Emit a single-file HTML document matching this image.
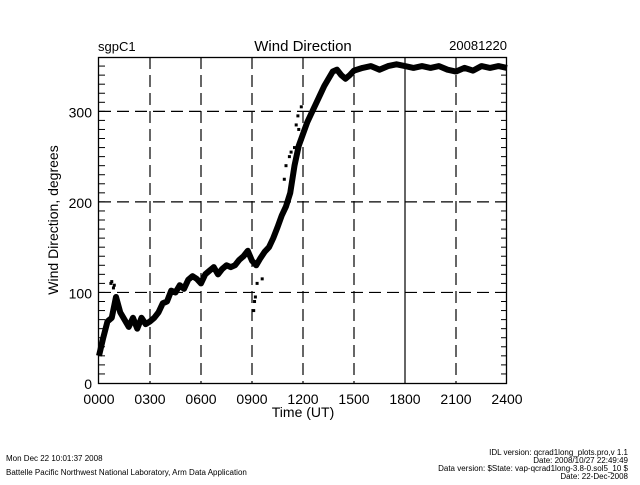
<!DOCTYPE html>
<html><head><meta charset="utf-8"><style>
body{margin:0;background:#fff;width:640px;height:480px;overflow:hidden}
svg text{font-family:"Liberation Sans",sans-serif;fill:#000}
</style></head><body>
<svg id="c" width="640" height="480">
<text x="98" y="51" font-size="13">sgpC1</text>
<text x="303" y="51" font-size="15" text-anchor="middle">Wind Direction</text>
<text x="507" y="50" font-size="13" text-anchor="end">20081220</text>
<text x="303" y="417" font-size="14" text-anchor="middle">Time (UT)</text>
<text transform="translate(58,220) rotate(-90)" font-size="14" text-anchor="middle">Wind Direction, degrees</text>
<g id="grid"></g><g id="ticks"></g><g id="data"></g>
<rect x="98.5" y="57.5" width="408" height="326" fill="none" stroke="#000" stroke-width="1.3"/>
<text x="6" y="461" font-size="8">Mon Dec 22 10:01:37 2008</text>
<text x="6" y="475" font-size="8">Battelle Pacific Northwest National Laboratory, Arm Data Application</text>
<g font-size="8" text-anchor="end">
<text x="628" y="455">IDL version: qcrad1long_plots.pro,v 1.1</text>
<text x="628" y="463">Date: 2008/10/27 22:49:49</text>
<text x="628" y="471">Data version: $State: vap-qcrad1long-3.8-0.sol5_10 $</text>
<text x="628" y="479">Date: 22-Dec-2008</text>
</g>
</svg>
<script>
const xTicks=[0,3,6,9,12,15,18,21,24];
const xTickLabels=["0000","0300","0600","0900","1200","1500","1800","2100","2400"];
const yTicks=[0,100,200,300];
const hours=[0,0.25,0.5,0.75,1,1.25,1.5,1.75,2,2.25,2.5,2.75,3,3.25,3.5,3.75,4,4.25,4.5,4.75,5,5.25,5.5,5.75,6,6.25,6.5,6.75,7,7.25,7.5,7.75,8,8.25,8.5,8.75,9,9.25,9.5,9.75,10,10.25,10.5,10.75,11,11.25,11.5,11.75,12,12.25,12.5,12.75,13,13.25,13.5,13.75,14,14.25,14.5,14.75,15,15.5,16,16.5,17,17.5,18,18.5,19,19.5,20,20.5,21,21.5,22,22.5,23,23.5,24];
const windDir=[30,50,68,72,95,78,70,62,72,60,72,65,68,72,78,88,90,102,100,108,104,114,118,115,110,120,124,128,120,126,130,128,130,136,140,146,135,130,138,145,150,160,172,185,195,210,240,262,275,288,298,308,318,328,336,344,346,340,336,340,345,348,350,346,350,352,350,348,350,348,350,346,344,348,345,350,348,350,348];
const outT=[0.7,0.75,0.85,0.9,9.1,9.15,9.2,9.3,9.6,10.9,11.0,11.2,11.3,11.5,11.6,11.7,11.75,11.9];
const outV=[110,112,105,108,80,90,95,110,115,225,240,250,255,260,285,295,280,305];
const ns='http://www.w3.org/2000/svg';
const X=h=>99+h*17, Y=v=>383-v*0.9055;
function mk(tag,a,p){const e=document.createElementNS(ns,tag);for(const k in a)e.setAttribute(k,a[k]);p.appendChild(e);return e;}
const g=document.getElementById('grid'),tk=document.getElementById('ticks'),d=document.getElementById('data');
xTicks.forEach((h,i)=>{
 if(i>0&&i<xTicks.length-1){const l=mk('line',{x1:X(h),x2:X(h),y1:57,y2:383,stroke:'#000','stroke-width':1.2,'stroke-dasharray':h===18?'none':'12 6'},g);
 
 }
 const t=mk('text',{x:X(h),y:404,'font-size':14,'text-anchor':'middle'},tk);t.textContent=xTickLabels[i];
 
 
});
yTicks.forEach(v=>{
 if(v>0){const l=mk('line',{x1:99,x2:507,y1:Y(v),y2:Y(v),stroke:'#000','stroke-width':1.2,'stroke-dasharray':'12 6'},g);
 
 }
 const t=mk('text',{x:92,y:Y(v)+6,'font-size':14,'text-anchor':'end'},tk);t.textContent=v;
 
 
});
for(let v=10;v<360;v+=10){mk('line',{x1:99,x2:105,y1:Y(v),y2:Y(v),stroke:'#000'},tk);mk('line',{x1:501,x2:507,y1:Y(v),y2:Y(v),stroke:'#000'},tk);}
const pl=mk('polyline',{points:hours.map((h,i)=>X(h)+','+Y(windDir[i])).join(' '),fill:'none',stroke:'#000','stroke-width':6,'stroke-linejoin':'round'},d);


outT.forEach((h,i)=>{const r=mk('rect',{x:X(h)-1.5,y:Y(outV[i])-1.5,width:3,height:3,fill:'#000'},d);
 
 });
</script>
</body></html>
